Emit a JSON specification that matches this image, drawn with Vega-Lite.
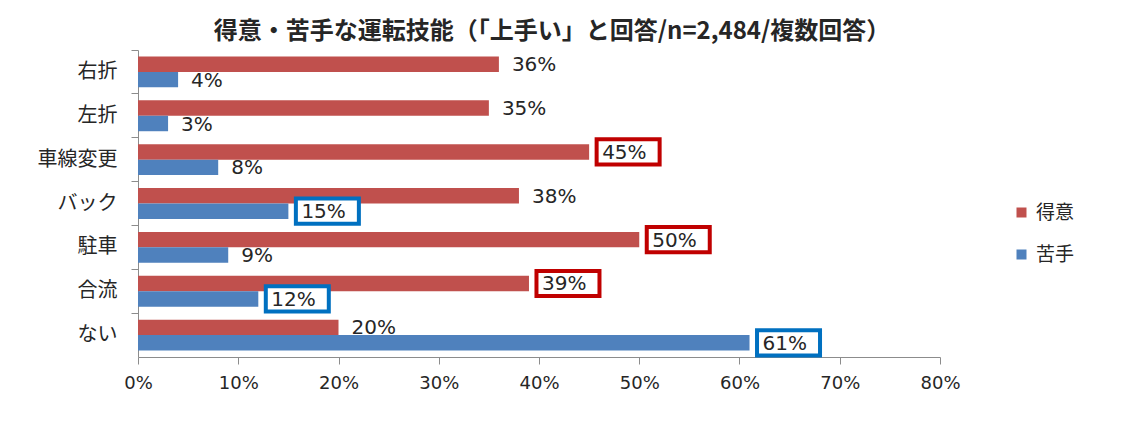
{
  "$schema": "https://vega.github.io/schema/vega-lite/v6.json",
  "autosize": {"type": "none"},
  "padding": {"left": 138, "top": 50, "right": 182, "bottom": 68},
  "width": 802,
  "height": 307,
  "background": "white",
  "title": {
    "text": "得意・苦手な運転技能（「上手い」と回答/n=2,484/複数回答）",
    "font": "Noto Sans CJK JP",
    "fontSize": 24,
    "fontWeight": "bold",
    "color": "#262626",
    "anchor": "middle",
    "dx": 13,
    "offset": 6
  },
  "config": {
    "view": {"stroke": null},
    "font": "DejaVu Sans"
  },
  "data": {
    "values": [
      {"技能": "右折", "区分": "得意", "値": 0.36, "強調": false},
      {"技能": "右折", "区分": "苦手", "値": 0.04, "強調": false},
      {"技能": "左折", "区分": "得意", "値": 0.35, "強調": false},
      {"技能": "左折", "区分": "苦手", "値": 0.03, "強調": false},
      {"技能": "車線変更", "区分": "得意", "値": 0.45, "強調": true},
      {"技能": "車線変更", "区分": "苦手", "値": 0.08, "強調": false},
      {"技能": "バック", "区分": "得意", "値": 0.38, "強調": false},
      {"技能": "バック", "区分": "苦手", "値": 0.15, "強調": true},
      {"技能": "駐車", "区分": "得意", "値": 0.50, "強調": true},
      {"技能": "駐車", "区分": "苦手", "値": 0.09, "強調": false},
      {"技能": "合流", "区分": "得意", "値": 0.39, "強調": true},
      {"技能": "合流", "区分": "苦手", "値": 0.12, "強調": true},
      {"技能": "ない", "区分": "得意", "値": 0.20, "強調": false},
      {"技能": "ない", "区分": "苦手", "値": 0.61, "強調": true}
    ]
  },
  "encoding": {
    "y": {
      "field": "技能",
      "type": "nominal",
      "sort": ["右折", "左折", "車線変更", "バック", "駐車", "合流", "ない"],
      "scale": {"paddingInner": 0, "paddingOuter": 0},
      "axis": {
        "title": null,
        "bandPosition": 0,
        "domainColor": "#8c8c8c",
        "tickColor": "#8c8c8c",
        "tickSize": 7,
        "labelPadding": 14,
        "labelFont": "Noto Sans CJK JP",
        "labelFontSize": 20,
        "labelColor": "#262626"
      }
    },
    "x": {
      "field": "値",
      "type": "quantitative",
      "scale": {"domain": [0, 0.8]},
      "axis": {
        "title": null,
        "values": [0, 0.1, 0.2, 0.3, 0.4, 0.5, 0.6, 0.7, 0.8],
        "format": ".0%",
        "grid": false,
        "labelFlush": false,
        "domainColor": "#8c8c8c",
        "tickColor": "#8c8c8c",
        "tickSize": 7,
        "labelPadding": 10,
        "labelFontSize": 18,
        "labelColor": "#262626"
      }
    },
    "yOffset": {
      "field": "区分",
      "sort": ["得意", "苦手"],
      "scale": {"paddingInner": 0, "paddingOuter": 0.42}
    }
  },
  "layer": [
    {
      "mark": {"type": "bar"},
      "encoding": {
        "color": {
          "field": "区分",
          "type": "nominal",
          "scale": {"domain": ["得意", "苦手"], "range": ["#C0504D", "#4F81BD"]},
          "legend": {
            "title": null,
            "orient": "none",
            "legendX": 874,
            "legendY": 153,
            "padding": 0,
            "symbolType": "square",
            "symbolSize": 100,
            "symbolStrokeWidth": 0,
            "labelFont": "Noto Sans CJK JP",
            "labelFontSize": 19,
            "labelColor": "#262626",
            "labelOffset": 5,
            "rowPadding": 22
          }
        }
      }
    },
    {
      "transform": [{"filter": "datum['強調']"}],
      "mark": {
        "type": "point",
        "shape": "M-1,-0.4H1V0.4H-1Z",
        "size": 3969,
        "filled": false,
        "fill": "white",
        "fillOpacity": 1,
        "strokeWidth": 4,
        "opacity": 1,
        "xOffset": 39
      },
      "encoding": {
        "stroke": {
          "field": "区分",
          "type": "nominal",
          "scale": {"domain": ["得意", "苦手"], "range": ["#C00000", "#0070C0"]},
          "legend": null
        }
      }
    },
    {
      "mark": {
        "type": "text",
        "align": "left",
        "baseline": "middle",
        "dx": 13,
        "dy": 1,
        "fontSize": 20,
        "color": "#262626"
      },
      "encoding": {
        "text": {"field": "値", "type": "quantitative", "format": ".0%"}
      }
    }
  ]
}
